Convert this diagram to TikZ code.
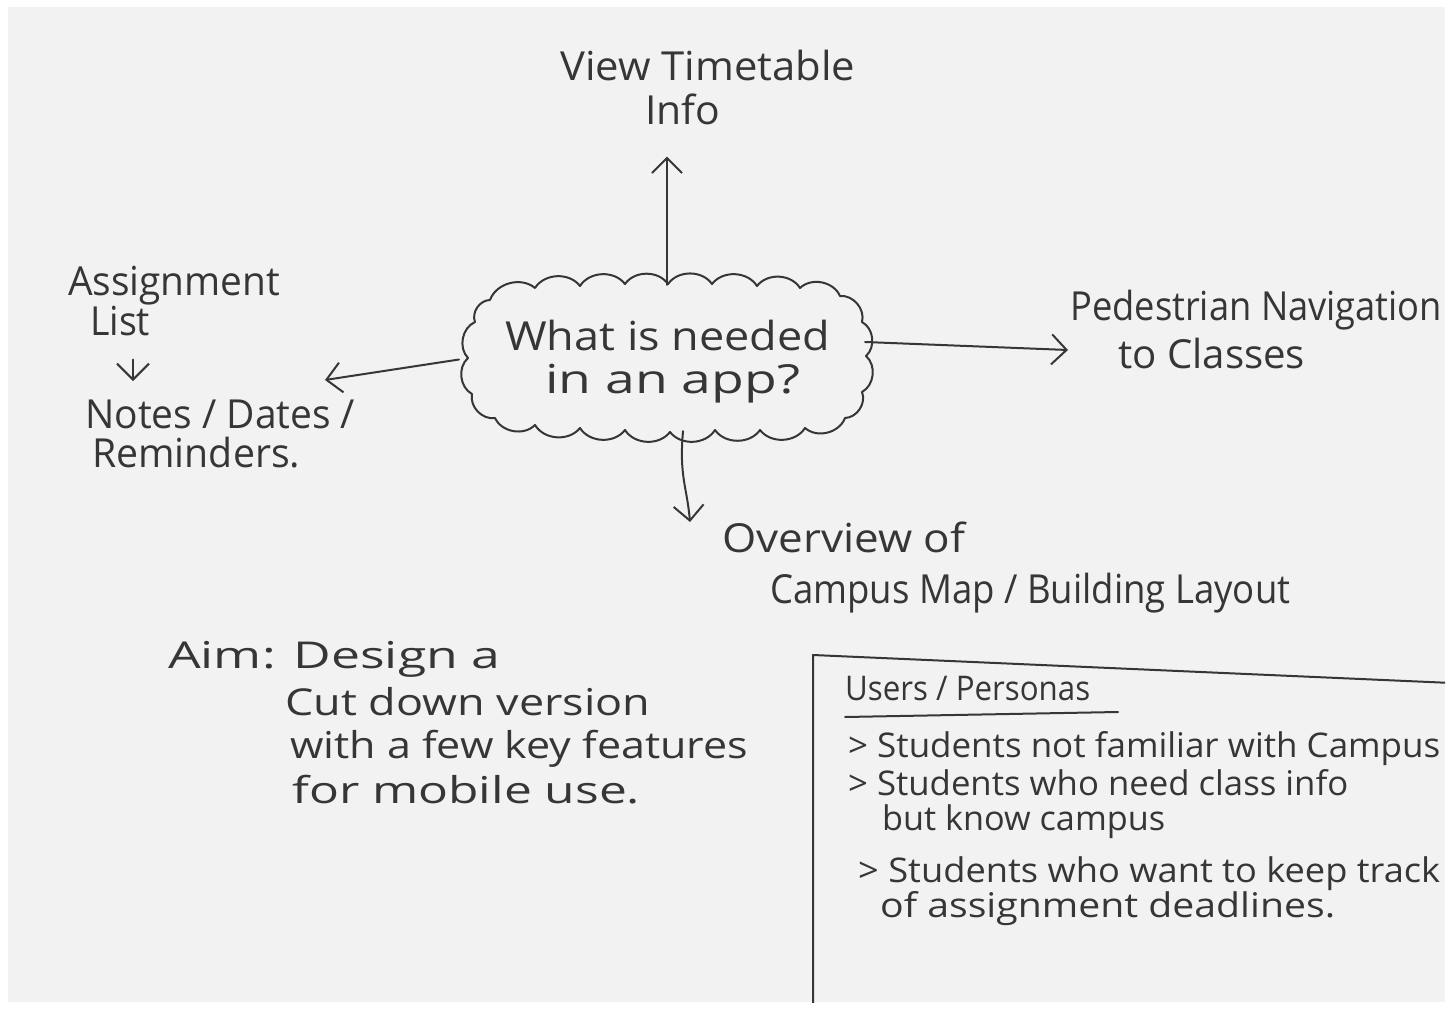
\documentclass[tikz,border=0pt]{standalone}
\usepackage{fontspec}
\setmainfont{Open Sans}
\usetikzlibrary{arrows.meta}
\definecolor{paper}{HTML}{F2F2F2}
\definecolor{ink}{HTML}{363636}
\newcommand{\hw}[2]{\resizebox{#1pt}{\height}{#2}}
\begin{document}
\begin{tikzpicture}[x=1pt,y=-1pt,
  lbl/.style={anchor=base west, inner sep=0pt, text=ink, font=\fontsize{40}{48}\selectfont},
  aimlbl/.style={lbl, font=\fontsize{37}{44}\selectfont},
  usrlbl/.style={lbl, font=\fontsize{34}{40}\selectfont},
  pen/.style={draw=ink, line width=2pt, line cap=round, line join=round},
  arr/.style={pen, -{Straight Barb[length=15pt,width=30pt,line width=2pt]}},
  puff/.style={bend left=55}]
\useasboundingbox (0,0) rectangle (1452,1009);
\fill[white] (0,0) rectangle (1452,1009);
\fill[paper] (8,7) rectangle (1445,1002);
\begin{scope}
\clip (8,7) rectangle (1445,1002);
% central thought (anchor box + scalloped outline)
\node[minimum width=396pt, minimum height=146pt, inner sep=0pt] (q) at (667,358) {};
\draw[pen] (490,300) to[puff] (535,288) to[puff] (580,286) to[puff] (625,284)
  to[puff] (668,284) to[puff] (712,284) to[puff] (757,286) to[puff] (800,288)
  to[puff] (840,296) to[puff] (862,322) to[puff] (866,356) to[puff] (862,392)
  to[puff] (845,418) to[puff] (805,428) to[puff] (760,430) to[puff] (715,430)
  to[puff] (670,432) to[puff] (625,430) to[puff] (580,428) to[puff] (535,425)
  to[puff] (495,418) to[puff] (472,394) to[puff] (468,358) to[puff] (475,322)
  to[puff] (490,300);
\node[lbl] (qt1) at (505,350) {\hw{325}{What is needed}};
\node[lbl] (qt2) at (545,393) {\hw{255}{in an app?}};
% top
\node[lbl] (vt) at (560,80) {\hw{295}{View Timetable}};
\node[lbl] (info) at (645,124) {\hw{75}{Info}};
% right
\node[lbl] (ped) at (1070,320) {\hw{372}{Pedestrian Navigation}};
\node[lbl] (cls) at (1118,368) {\hw{187}{to Classes}};
% left
\node[lbl] (asg) at (68,295) {\hw{212}{Assignment}};
\node[lbl] (lst) at (90,335) {\hw{60}{List}};
\node[lbl] (nts) at (85,428) {\hw{270}{Notes / Dates /}};
\node[lbl] (rem) at (92,467) {\hw{208}{Reminders.}};
% bottom
\node[lbl] (ov1) at (722,552) {\hw{243}{Overview of}};
\node[lbl] (ov2) at (770,603) {\hw{520}{Campus Map / Building Layout}};
% aim
\node[aimlbl] (aim1) at (168,668) {\hw{332}{Aim: Design a}};
\node[aimlbl] (aim2) at (285,715) {\hw{365}{Cut down version}};
\node[aimlbl] (aim3) at (290,758) {\hw{458}{with a few key features}};
\node[aimlbl] (aim4) at (292,803) {\hw{348}{for mobile use.}};
% users box
\draw[pen] (813,1009) -- (813,655) -- (1452,683);
\node[usrlbl] (usr) at (845,700) {\hw{245}{Users / Personas}};
\draw[pen] (845,717) -- (1118,712);
\node[usrlbl] (u1) at (848,757) {\hw{592}{> Students not familiar with Campus}};
\node[usrlbl] (u2) at (848,795) {\hw{500}{> Students who need class info}};
\node[usrlbl] (u2b) at (882,830) {\hw{283}{but know campus}};
\node[usrlbl] (u3) at (858,882) {\hw{582}{> Students who want to keep track}};
\node[usrlbl] (u3b) at (880,917) {\hw{455}{of assignment deadlines.}};
% connectors
\coordinate (lt) at (325,380);
\coordinate (rt) at (1068,350);
\coordinate (dn) at (690,522);
\coordinate (va) at (133,381);
\draw[arr, shorten >=32pt] (q.north) -- (q.north |- info.south);
\draw[arr, shorten <=10pt] (q.west) -- (lt);
\draw[arr] ([yshift=16pt]q.east) -- (rt);
\draw[arr] ([xshift=16pt]q.south) .. controls +(-4,45) and +(-3,-35) .. (dn);
\draw[pen, -{Straight Barb[length=16pt,width=32pt,line width=2pt]}, shorten <=24pt] (lst.south -| va) -- (va);
\end{scope}
\end{tikzpicture}
\end{document}
